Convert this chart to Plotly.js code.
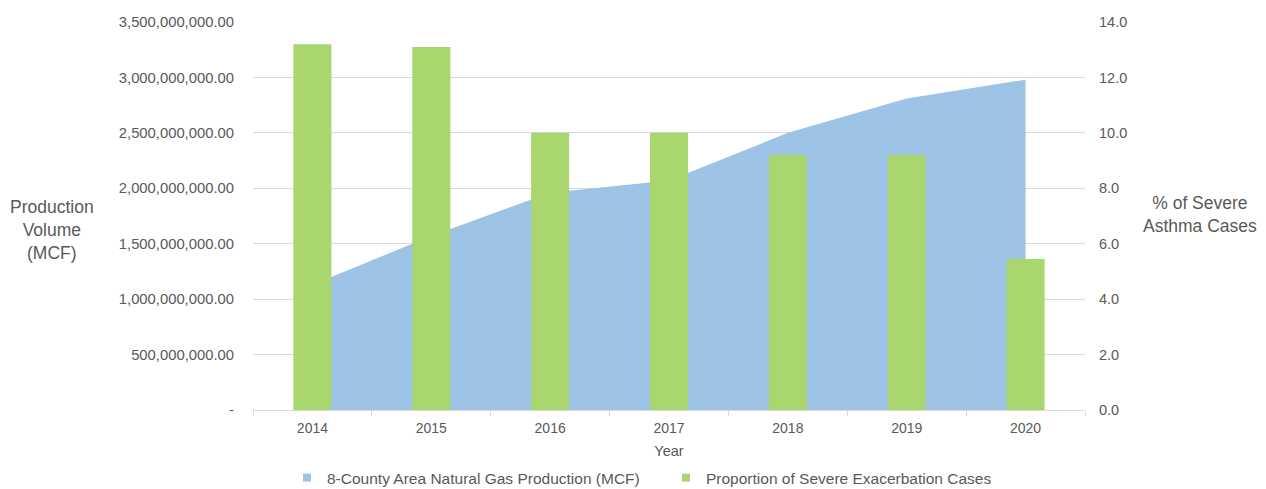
<!DOCTYPE html>
<html>
<head>
<meta charset="utf-8">
<script src="https://cdn.plot.ly/plotly-3.0.1.min.js"></script>
<style>
  html, body { margin: 0; padding: 0; background: #ffffff; }
  #chart { width: 1266px; height: 489px; }
</style>
</head>
<body>
<div id="chart"></div>
<script>
// Years on the category axis
const years = ['2014', '2015', '2016', '2017', '2018', '2019', '2020'];

// Natural gas production, 8-county area (MCF)
const gasProduction = [1.13e9, 1.57e9, 1.96e9, 2.07e9, 2.50e9, 2.81e9, 2.98e9];

// Share of asthma cases that were severe exacerbations (%)
const severeShare = [13.2, 13.1, 10.0, 10.0, 9.2, 9.2, 5.45];

// Left axis ticks and their labels
const leftTickVals = [0, 5e8, 1e9, 1.5e9, 2e9, 2.5e9, 3e9, 3.5e9];
const leftTickText = ['-', '500,000,000.00', '1,000,000,000.00', '1,500,000,000.00',
  '2,000,000,000.00', '2,500,000,000.00', '3,000,000,000.00', '3,500,000,000.00'];

const FONT = 'Liberation Sans, Arial, sans-serif';
const TEXT = '#595959';
const GRID = '#d9d9d9';
const BLUE = '#9dc3e6';
const GREEN = '#a9d66f';

const traces = [
  {
    type: 'scatter',
    name: '8-County Area Natural Gas Production (MCF)',
    x: years,
    y: gasProduction,
    mode: 'lines',
    fill: 'tozeroy',
    fillcolor: BLUE,
    line: { width: 0, color: BLUE },
    yaxis: 'y',
    showlegend: false,
    hoverinfo: 'x+y'
  },
  {
    type: 'bar',
    name: 'Proportion of Severe Exacerbation Cases',
    x: years,
    y: severeShare,
    marker: { color: GREEN },
    yaxis: 'y2',
    showlegend: false
  },
  // legend keys (square swatches)
  {
    type: 'scatter', mode: 'markers', x: [null], y: [null],
    name: '8-County Area Natural Gas Production (MCF)',
    marker: { symbol: 'square', size: 8, color: BLUE },
    showlegend: true, hoverinfo: 'skip'
  },
  {
    type: 'scatter', mode: 'markers', x: [null], y: [null],
    name: 'Proportion of Severe Exacerbation Cases',
    marker: { symbol: 'square', size: 8, color: GREEN },
    showlegend: true, hoverinfo: 'skip'
  }
];

const layout = {
  width: 1266,
  height: 489,
  margin: { l: 253, r: 181, t: 22, b: 79, pad: 0 },
  paper_bgcolor: '#ffffff',
  plot_bgcolor: '#ffffff',
  font: { family: FONT, color: TEXT, size: 14 },
  bargap: 0.68,
  xaxis: {
    type: 'category',
    categoryorder: 'array',
    categoryarray: years,
    automargin: false,
    showgrid: false,
    showline: true,
    linecolor: GRID,
    linewidth: 1,
    ticks: 'outside',
    tickson: 'boundaries',
    ticklen: 5,
    tickcolor: GRID,
    tickfont: { family: FONT, size: 14, color: TEXT },
    ticklabelstandoff: 5,
    title: { text: 'Year', font: { family: FONT, size: 14.5, color: TEXT }, standoff: 11 },
    zeroline: false,
    fixedrange: true
  },
  yaxis: {
    range: [0, 3.5e9],
    tickvals: leftTickVals,
    ticktext: leftTickText,
    automargin: false,
    showgrid: true,
    gridcolor: GRID,
    gridwidth: 1,
    zeroline: false,
    showline: false,
    ticks: '',
    ticklabelstandoff: 18,
    tickfont: { family: FONT, size: 14.8, color: TEXT },
    fixedrange: true
  },
  yaxis2: {
    overlaying: 'y',
    side: 'right',
    range: [0, 14],
    dtick: 2,
    tick0: 0,
    tickformat: '.1f',
    automargin: false,
    showgrid: false,
    zeroline: false,
    showline: false,
    ticks: '',
    ticklabelstandoff: 13,
    tickfont: { family: FONT, size: 14.5, color: TEXT },
    fixedrange: true
  },
  showlegend: true,
  legend: {
    orientation: 'h',
    xref: 'container',
    yref: 'container',
    x: 287 / 1266,
    xanchor: 'left',
    y: 1 - 478 / 489,
    yanchor: 'middle',
    font: { family: FONT, size: 15.5, color: TEXT },
    itemwidth: 30,
    entrywidth: 334,
    bgcolor: 'rgba(0,0,0,0)'
  },
  annotations: [
    {
      text: 'Production<br>Volume<br>(MCF)',
      xref: 'paper', yref: 'paper',
      x: (52 - 253) / 832, y: (410 - 230) / 388,
      xanchor: 'center', yanchor: 'middle',
      showarrow: false, align: 'center',
      font: { family: FONT, size: 17.5, color: TEXT }
    },
    {
      text: '% of Severe<br>Asthma Cases',
      xref: 'paper', yref: 'paper',
      x: (1200 - 253) / 832, y: (410 - 214) / 388,
      xanchor: 'center', yanchor: 'middle',
      showarrow: false, align: 'center',
      font: { family: FONT, size: 17.5, color: TEXT }
    }
  ]
};

Plotly.newPlot('chart', traces, layout, { displayModeBar: false, staticPlot: true });
</script>
</body>
</html>
